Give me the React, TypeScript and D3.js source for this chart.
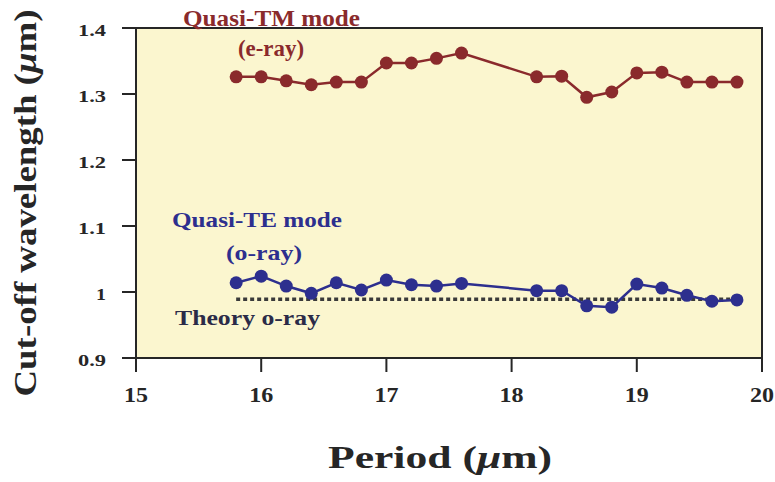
import React from "react";
import * as d3 from "d3";

const periods = [15.8, 16.0, 16.2, 16.4, 16.6, 16.8, 17.0, 17.2, 17.4, 17.6, 18.2, 18.4, 18.6, 18.8, 19.0, 19.2, 19.4, 19.6, 19.8];
const tmValues = [1.326, 1.326, 1.32, 1.314, 1.318, 1.318, 1.347, 1.347, 1.354, 1.362, 1.326, 1.327, 1.295, 1.303, 1.332, 1.333, 1.318, 1.318, 1.318];
const teValues = [1.014, 1.024, 1.009, 0.998, 1.014, 1.003, 1.018, 1.011, 1.009, 1.013, 1.002, 1.002, 0.979, 0.977, 1.012, 1.006, 0.995, 0.986, 0.988];
const theoryX = [15.8, 19.8];
const theoryY = [0.989, 0.989];
const xTicks = [15, 16, 17, 18, 19, 20];
const yTicks = [0.9, 1.0, 1.1, 1.2, 1.3, 1.4];
const yTickLabels = ["0.9", "1", "1.1", "1.2", "1.3", "1.4"];

const W = 775;
const H = 482;
const M = { left: 136, right: 13, top: 28, bottom: 124 };

const FONT = '"Liberation Serif", "Times New Roman", Times, serif';
const RED = "#8a2a2c";
const BLUE = "#2d2f8e";
const DARK = "#262626";

function T({ x, y, size, anchor = "start", fill = DARK, len, children }: any) {
  return (
    <text
      x={x}
      y={y}
      style={{ fontFamily: FONT, fontWeight: 700, fontSize: size + "px" }}
      textAnchor={anchor}
      fill={fill}
      textLength={len}
      lengthAdjust="spacingAndGlyphs"
    >
      {children}
    </text>
  );
}

export default function App() {
  const x = d3.scaleLinear().domain([15, 20]).range([M.left, W - M.right]);
  const y = d3.scaleLinear().domain([0.9, 1.4]).range([H - M.bottom, M.top]);
  const line = d3
    .line<[number, number]>()
    .x((d) => x(d[0]))
    .y((d) => y(d[1]));
  const tm: [number, number][] = periods.map((p, i) => [p, tmValues[i]]);
  const te: [number, number][] = periods.map((p, i) => [p, teValues[i]]);
  const th: [number, number][] = theoryX.map((p, i) => [p, theoryY[i]]);
  const x0 = x(15), x1 = x(20), y0 = y(0.9), y1 = y(1.4);

  return (
    <svg width={W} height={H} style={{ position: "absolute", left: 0, top: 0, background: "#ffffff" }}>
      <rect x={x0} y={y1} width={x1 - x0} height={y0 - y1} fill="#fbf6cf" />
      <path d={line(th) || ""} fill="none" stroke="#3a3a3a" strokeWidth={3.5} strokeDasharray="4,3" />
      <path d={line(te) || ""} fill="none" stroke={BLUE} strokeWidth={2.5} />
      {te.map((d, i) => (
        <circle key={"te" + i} cx={x(d[0])} cy={y(d[1])} r={6.5} fill={BLUE} />
      ))}
      <path d={line(tm) || ""} fill="none" stroke={RED} strokeWidth={2.5} />
      {tm.map((d, i) => (
        <circle key={"tm" + i} cx={x(d[0])} cy={y(d[1])} r={6.5} fill={RED} />
      ))}
      <rect x={x0} y={y1} width={x1 - x0} height={y0 - y1} fill="none" stroke={DARK} strokeWidth={2} />
      {yTicks.map((t, i) => (
        <g key={"yt" + i}>
          <line x1={x0 - 14} x2={x0} y1={y(t)} y2={y(t)} stroke={DARK} strokeWidth={2} />
          <T x={106} y={y(t) + 8} size={16} anchor="end" len={yTickLabels[i].length > 1 ? 28 : 10}>
            {yTickLabels[i]}
          </T>
        </g>
      ))}
      {xTicks.map((t, i) => (
        <g key={"xt" + i}>
          <line x1={x(t)} x2={x(t)} y1={y0} y2={y0 + 14} stroke={DARK} strokeWidth={2} />
          <T x={x(t)} y={y0 + 44} size={20} anchor="middle" len={24}>
            {String(t)}
          </T>
        </g>
      ))}
      <T x={440} y={468} size={32} anchor="middle" len={224}>
        Period (<tspan style={{ fontStyle: "italic" }}>μ</tspan>m)
      </T>
      <g transform="translate(36,203) rotate(-90)">
        <T x={0} y={0} size={32} anchor="middle" len={387}>
          Cut-off wavelength (<tspan style={{ fontStyle: "italic" }}>μ</tspan>m)
        </T>
      </g>
      <T x={183} y={26} size={23} fill={RED} len={177}>
        Quasi-TM mode
      </T>
      <T x={238} y={56} size={23} fill={RED} len={66}>
        (e-ray)
      </T>
      <T x={172} y={227} size={22} fill={BLUE} len={170}>
        Quasi-TE mode
      </T>
      <T x={226} y={260} size={22} fill={BLUE} len={76}>
        (o-ray)
      </T>
      <T x={175} y={325} size={22} fill="#2b2b48" len={145}>
        Theory o-ray
      </T>
    </svg>
  );
}
